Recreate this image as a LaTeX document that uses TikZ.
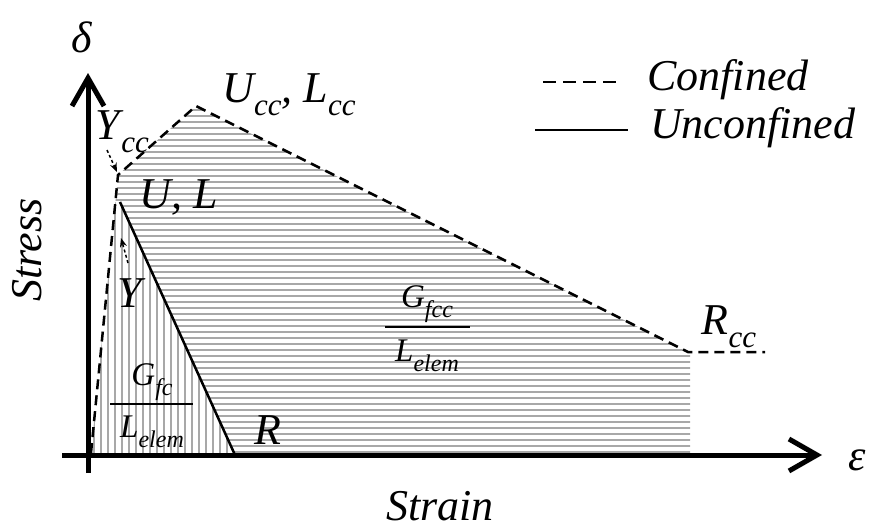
\documentclass[tikz,border=0pt]{standalone}
\usepackage{fontspec}
\setmainfont{Liberation Serif}
\usetikzlibrary{arrows.meta}
\newcommand\sbs[1]{\raisebox{-0.3em}{\fontsize{31}{31}\selectfont #1}}
\newcommand\fsbs[1]{\raisebox{-0.3em}{\fontsize{24}{24}\selectfont #1}}
\begin{document}
\begin{tikzpicture}[x=1pt,y=-1pt,
  lbl/.style={inner sep=0pt, font=\fontsize{44}{46}\selectfont\itshape},
  flbl/.style={inner sep=0pt, font=\fontsize{33}{35}\selectfont\itshape},
  conf/.style={line width=2.5pt, dash pattern=on 10pt off 6pt},
  unconf/.style={line width=2.5pt},
  axis/.style={line width=5pt, -{Straight Barb[length=28pt,width=32pt]}},
  hatch/.style={black!34, line width=1.3pt},
  pointer/.style={line width=1.5pt, dash pattern=on 3pt off 2.5pt, -{Stealth[length=9pt,width=7pt]}},
  fracline/.style={line width=1.8pt}]
\useasboundingbox (0,0) rectangle (887,530);
\fill[white] (0,0) rectangle (887,530);
% key points
\coordinate (O) at (91,453);
\coordinate (Ycc) at (118,175);
\coordinate (Ucc) at (196,106);
\coordinate (Rcc) at (688,352);
\coordinate (Rend) at (765,352);
\coordinate (U) at (120,202);
\coordinate (Uleft) at (115.4,202);
\coordinate (R) at (235,455);
\coordinate (Hb) at (690,455);
\coordinate (Ht) at (690,352);
% horizontal hatching
\begin{scope}
  \clip (Ycc) -- (Ucc) -- (Rcc) -- (Ht) -- (Hb) -- (R) -- (U) -- (Uleft) -- cycle;
  \foreach \yy in {110,116,...,452} \draw[hatch] (100,\yy) -- (700,\yy);
\end{scope}
% vertical hatching
\begin{scope}
  \clip (O) -- (Uleft) -- (U) -- (R) -- cycle;
  \foreach \xx in {94,101,...,236} \draw[hatch] (\xx,195) -- (\xx,456);
\end{scope}
% axes
\coordinate (xs) at (62,455);
\coordinate (xe) at (822,455);
\coordinate (ys) at (88,473);
\coordinate (ye) at (88,73);
\draw[axis] (xs) -- (xe);
\draw[axis] (ys) -- (ye);
% curves
\draw[conf] (O) -- (Ycc) -- (Ucc) -- (Rcc) -- (Rend);
\draw[unconf] (U) -- (R);
% pointers
\coordinate (p1s) at (107,150);
\coordinate (p1e) at (117,172);
\coordinate (p2s) at (128,263);
\coordinate (p2e) at (121,238);
\draw[pointer] (p1s) -- (p1e);
\draw[pointer] (p2s) -- (p2e);
% legend
\coordinate (l1a) at (543,82);
\coordinate (l1b) at (623,82);
\coordinate (l2a) at (535,130);
\coordinate (l2b) at (628,130);
\draw[conf, dash pattern=on 13pt off 7pt] (l1a) -- (l1b);
\draw[unconf] (l2a) -- (l2b);
\node[lbl, anchor=west] (conftxt) at (647,80) {Confined};
\node[lbl, anchor=west] (unconftxt) at (650,128) {Unconfined};
% labels
\node[lbl] (delta) at (82,37) {δ};
\node[lbl] (eps) at (857,460) {ε};
\node[lbl, rotate=90] (stress) at (27,250) {Stress};
\node[lbl, anchor=base] (strain) at (440,520) {Strain};
\node[lbl] (uccl) at (289,95) {U\sbs{cc}, L\sbs{cc}};
\node[lbl] (yccl) at (122,132) {Y\kern2pt\sbs{cc}};
\node[lbl] (ul) at (179,197) {U, L};
\node[lbl] (yl) at (130,293) {Y};
\node[lbl] (rl) at (268,430) {R};
\node[lbl] (rccl) at (729,327) {R\sbs{cc}};
% fractions
\node[flbl] (gfc) at (152,382) {G\fsbs{fc}};
\node[flbl] (lel1) at (152,432) {L\fsbs{elem}};
\coordinate (fa) at (110,404);
\coordinate (fb) at (193,404);
\draw[fracline] (fa) -- (fb);
\node[flbl] (gfcc) at (427,304) {G\fsbs{fcc}};
\node[flbl] (lel2) at (427,356) {L\fsbs{elem}};
\coordinate (fc) at (385,327);
\coordinate (fd) at (470,327);
\draw[fracline] (fc) -- (fd);
\end{tikzpicture}
\end{document}
